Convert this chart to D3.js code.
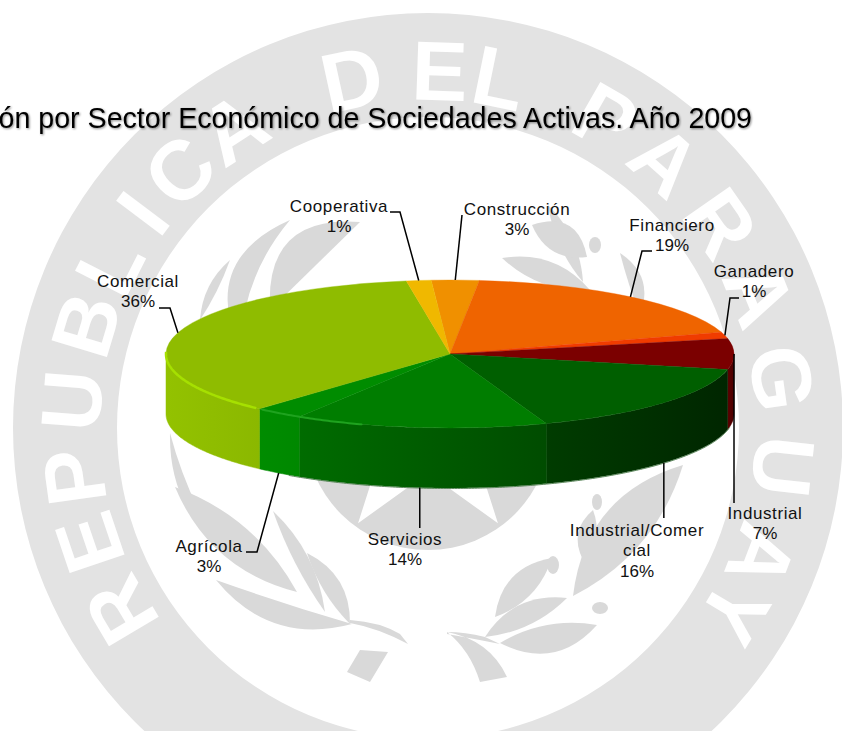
<html>
<head>
    <meta charset="utf-8">
    <script src="https://d3js.org/d3.v7.min.js"></script>
    <style>
        body { margin: 0; background: white; }
        text { font-family: "Liberation Sans", Arial, sans-serif; }
    </style>
</head>
<body>
<div id="my_dataviz"></div>
<script>
    // slices, clockwise from the Cooperativa / Construccion edge
    const categories = ["Construcción", "Financiero", "Ganadero", "Industrial", "Industrial/Comercial", "Servicios", "Agrícola", "Comercial", "Cooperativa"]
    const shares = [2.7, 18.6, 1.4, 6.7, 16.1, 14.4, 2.8, 35.8, 1.4]
    const topColors = ["#f09000", "#ef6400", "#f03c00", "#7b0000", "#005f00", "#007d00", "#008c00", "#8fbc00", "#f0b800"]
    const wallLight = ["#f09000", "#ef6400", "#f03c00", "#5e0000", "#003c00", "#006c00", "#008c00", "#93c200", "#f0b800"]
    const wallDark = ["#f09000", "#ef6400", "#f03c00", "#4a0000", "#002600", "#004c00", "#008800", "#8bb800", "#f0b800"]

    // where each label sits: centre x, first baseline, leader end, optional elbow
    const labelX = [517, 672, 754, 765, 637, 405, 209, 138, 339]
    const labelY = [215, 231, 277, 519, 536, 545, 552, 287, 212]
    const leaderEnd = [[462, 215], [652, 251], [739, 298], [null, 503], [null, 518], [null, 528], [246, 552], [159, 308], [390, 212]]
    const leaderElbow = [null, [642, 251], [730, 298], null, null, null, [257, 552], [170, 308], [400, 212]]

    // watermark lettering and the angle of each letter on the ring
    const sealLetters = "REPUBLICADELPARAGUAY".split("")
    const sealAngles = [-120.7, -108.7, -97.9, -85.6, -73.2, -63, -53, -44, -33, -12.3, 1.9, 11.5, 29.8, 41.6, 55, 68, 82, 96.2, 111, 121]

    const width = 842, height = 731
    const cx = 450, cy = 354, rx = 284, ry = 74, depth = 60
    const rad = Math.PI / 180

    const svg = d3.select("#my_dataviz")
      .append("svg")
        .attr("width", width)
        .attr("height", height)
        .style("display", "block")

    const defs = svg.append("defs")

    /* ---------- watermark seal behind the chart ---------- */
    const seal = svg.append("g")
    const sx = 428, sy = 428
    const ringGray = "#e3e3e3", diskGray = "#d9d9d9"

    seal.append("path")
      .attr("transform", `translate(${sx},${sy})`)
      .attr("d", d3.arc().innerRadius(311).outerRadius(415).startAngle(0).endAngle(2 * Math.PI)())
      .attr("fill", ringGray)

    seal.selectAll(".sealLetter")
      .data(sealLetters)
      .join("text")
        .attr("transform", (d, i) => `translate(${sx},${sy}) rotate(${sealAngles[i]}) translate(0,-328)`)
        .attr("text-anchor", "middle")
        .attr("font-weight", "bold")
        .attr("font-size", 84)
        .attr("fill", "white")
        .text(d => d)

    seal.append("circle").attr("cx", sx).attr("cy", sy - 1).attr("r", 123).attr("fill", diskGray)

    // five pointed star inside the disk
    const starRadii = d3.range(11).map(i => i % 2 ? 46 : 119)
    seal.append("path")
      .attr("transform", `translate(${sx},${sy - 1})`)
      .attr("d", d3.lineRadial().angle((d, i) => i * 36 * rad).radius(d => d)(starRadii))
      .attr("fill", "white")

    // laurel leaves: base x,y  tip x,y  bulge of each side
    const leaves = [
      [352, 624, 216, 580, 46, 2],
      [350, 624, 307, 553, -26, 10],
      [325, 612, 273, 511, -20, 8],
      [297, 592, 175, 487, 40, -30],
      [222, 552, 170, 433, 30, 10],
      [240, 350, 290, 220, 70, 24],
      [200, 320, 230, 260, 14, -4],
      [270, 310, 360, 222, 72, 0],
      [495, 617, 552, 558, 30, -20],
      [567, 598, 485, 637, -28, 16],
      [597, 625, 500, 643, -18, 38],
      [583, 560, 593, 510, 20, -16],
      [573, 596, 683, 465, 56, -36],
      [583, 282, 548, 205, -16, 12],
      [532, 225, 587, 257, 36, -24],
      [590, 290, 502, 258, -26, 20],
      [640, 315, 620, 253, 2, -26]
    ]
    const leafPath = function(l) {
      const mx = (l[0] + l[2]) / 2, my = (l[1] + l[3]) / 2
      const dx = l[2] - l[0], dy = l[3] - l[1], n = Math.hypot(dx, dy)
      const p = d3.path()
      p.moveTo(l[0], l[1])
      p.quadraticCurveTo(mx + dy / n * l[4], my - dx / n * l[4], l[2], l[3])
      p.quadraticCurveTo(mx + dy / n * l[5], my - dx / n * l[5], l[0], l[1])
      return p.toString()
    }
    seal.selectAll(".leaf")
      .data(leaves)
      .join("path")
        .attr("d", leafPath)
        .attr("fill", diskGray)

    // branch stems and the two ribbon ends
    seal.append("path")
      .attr("d", "M350,623 Q378,628 408,644 L400,634 Q380,622 350,620 Z M447,632 Q490,640 507,677 L480,682 Q470,650 447,632 Z M360,650 L388,652 L370,682 L347,672 Z M447,634 Q470,638 500,644 L485,637 Q465,632 447,632 Z")
      .attr("fill", diskGray)
    seal.selectAll(".berry")
      .data([[553, 565, 6, 9], [600, 608, 8, 6], [595, 245, 6, 8], [597, 502, 5, 8]])
      .join("ellipse")
        .attr("cx", d => d[0]).attr("cy", d => d[1])
        .attr("rx", d => d[2]).attr("ry", d => d[3])
        .attr("fill", diskGray)

    /* ---------- title ---------- */
    svg.append("text")
      .attr("x", 752)
      .attr("y", 128)
      .attr("text-anchor", "end")
      .attr("font-size", 28.6)
      .attr("fill", "black")
      .style("filter", "drop-shadow(1.5px 1.5px 1px rgba(0,0,0,0.45))")
      .text("ón por Sector Económico de Sociedades Activas. Año 2009")

    /* ---------- 3d pie ---------- */
    const pie = d3.pie().sort(null)
      .startAngle(-3.8 * rad)
      .endAngle(356.2 * rad)
    const slices = pie(shares)

    const px = a => cx + rx * Math.sin(a)
    const py = a => cy - ry * Math.cos(a)

    const wall = d3.area().x(px).y0(py).y1(a => py(a) + depth)

    slices.forEach((d, i) => {
      const a0 = Math.max(d.startAngle, Math.PI / 2), a1 = Math.min(d.endAngle, 1.5 * Math.PI)
      if (a0 >= a1) return
      const grad = defs.append("linearGradient")
        .attr("id", "wall" + i)
        .attr("gradientUnits", "userSpaceOnUse")
        .attr("x1", Math.min(px(a0), px(a1))).attr("x2", Math.max(px(a0), px(a1)))
        .attr("y1", 0).attr("y2", 0)
      grad.append("stop").attr("offset", 0).attr("stop-color", wallLight[i])
      grad.append("stop").attr("offset", 1).attr("stop-color", wallDark[i])
      svg.append("path")
        .attr("d", wall(d3.range(a0, a1, 0.01).concat(a1)))
        .attr("fill", `url(#wall${i})`)
        .attr("stroke", `url(#wall${i})`)
        .attr("stroke-width", 0.5)
    })

    // soft edge under the front of the pie
    svg.append("path")
      .attr("d", d3.line().x(px).y(a => py(a) + depth + 0.5)(d3.range(100 * rad, 215 * rad, 0.01)))
      .attr("fill", "none")
      .attr("stroke", "#5f8a5f")
      .attr("stroke-width", 1)

    const arc = d3.arc().innerRadius(0).outerRadius(rx)
    svg.append("g")
      .attr("transform", `translate(${cx},${cy}) scale(1,${ry / rx})`)
      .selectAll("path")
      .data(slices)
      .join("path")
        .attr("d", arc)
        .attr("fill", (d, i) => topColors[i])
        .attr("stroke", (d, i) => topColors[i])
        .attr("stroke-width", 0.6)

    // light bevel on the front rim
    const rim = d3.line().x(px).y(py)
    const bevel = function(from, to, color, w) {
      svg.append("path")
        .attr("d", rim(d3.range(from * rad, to * rad, 0.01)))
        .attr("fill", "none")
        .attr("stroke", color)
        .attr("stroke-width", w)
    }
    bevel(223, 272, "#a6e000", 2.5)
    bevel(198, 222, "#1fa31f", 2)

    /* ---------- labels and leaders ---------- */
    const leaderLine = d3.line()
    slices.forEach((d, i) => {
      const mid = (d.startAngle + d.endAngle) / 2
      const front = mid > 120 * rad && mid < 240 * rad
      const anchor = [px(mid), py(mid) + (front ? depth : 0)]
      const end = [leaderEnd[i][0] === null ? anchor[0] : leaderEnd[i][0], leaderEnd[i][1]]
      const pts = leaderElbow[i] ? [anchor, leaderElbow[i], end] : [anchor, end]
      svg.append("path")
        .attr("d", leaderLine(pts))
        .attr("fill", "none")
        .attr("stroke", "black")
        .attr("stroke-width", 1.5)

      // long names wrap the way the spreadsheet did it
      const lines = categories[i].match(/.{1,16}/g).concat([Math.round(shares[i]) + "%"])
      lines.forEach((t, k) => {
        svg.append("text")
          .attr("x", labelX[i])
          .attr("y", labelY[i] + k * 20.3)
          .attr("text-anchor", "middle")
          .attr("font-size", 17)
          .attr("letter-spacing", k === lines.length - 1 ? 0 : 0.6)
          .attr("fill", "#111")
          .text(t)
      })
    })
</script>
</body>
</html>
